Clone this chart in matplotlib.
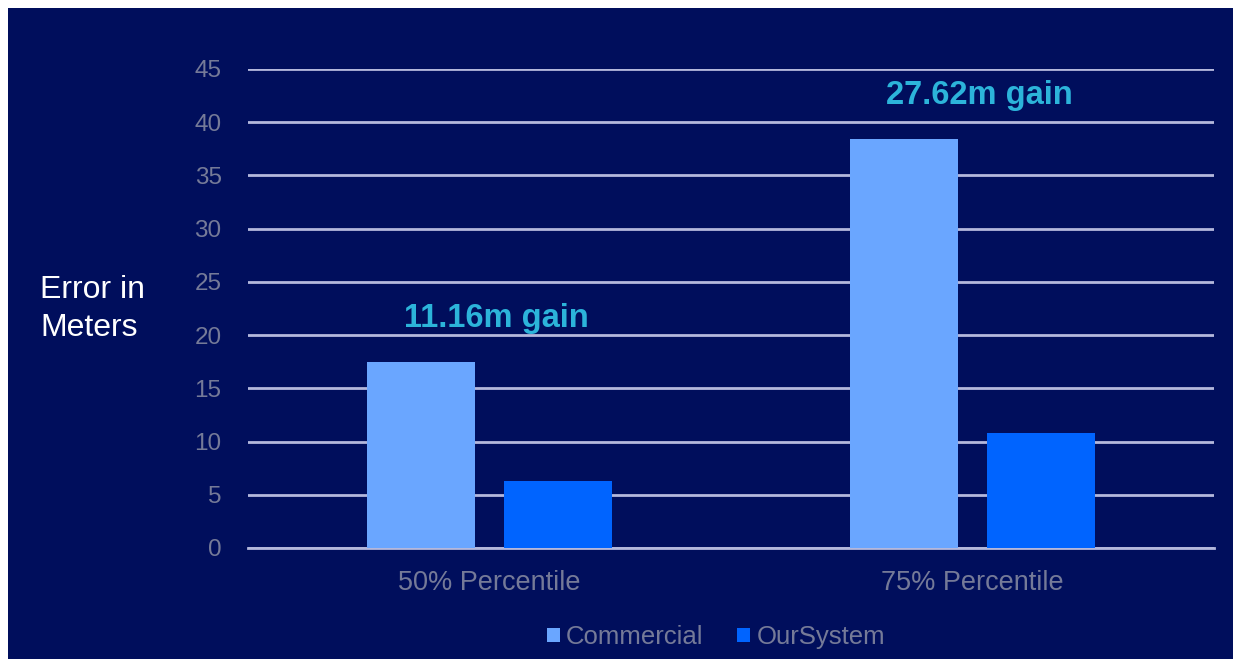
import numpy as np
import matplotlib.pyplot as plt
from matplotlib.patches import Rectangle

plt.rcParams['font.family'] = ['Liberation Sans', 'DejaVu Sans']

# data
categories = ['50% Percentile', '75% Percentile']
commercial = [17.5, 38.4]
our_system = [6.34, 10.78]
gains = ['11.16m gain', '27.62m gain']
yticks = [0, 5, 10, 15, 20, 25, 30, 35, 40, 45]

navy = '#000E5C'
grid_col = '#B4B8DC'
tick_col = '#757A98'

fig = plt.figure(figsize=(12.33, 6.59), dpi=100)
fig.patch.set_facecolor('white')
# dark panel with thin white margin at top / left
panel = Rectangle((8 / 1233, 0), 1 - 8 / 1233, 1 - 8 / 659,
                  transform=fig.transFigure, facecolor=navy,
                  edgecolor='none', zorder=-10)
fig.add_artist(panel)

ax = fig.add_axes([248 / 1233, 1 - 548 / 659, (1214 - 248) / 1233, (548 - 69) / 659])
ax.set_facecolor('none')

x = np.arange(len(categories))
w = 0.224
off = 0.142
ax.bar(x - off, commercial, w, color='#6AA6FF', label='Commercial', zorder=3)
ax.bar(x + off, our_system, w, color='#0064FF', label='OurSystem', zorder=3)

ax.set_xlim(-0.5, 1.5)
ax.set_ylim(0, 45)
ax.set_yticks(yticks)
ax.set_xticks(x)
ax.set_xticklabels(categories)
ax.tick_params(axis='both', length=0, colors=tick_col, labelsize=17.5)
ax.tick_params(axis='x', labelsize=19.5, pad=16)
ax.tick_params(axis='y', pad=19)
ax.yaxis.grid(True, color=grid_col, linewidth=2, zorder=1)
ax.set_axisbelow(True)
for s in ['top', 'right', 'left']:
    ax.spines[s].set_visible(False)
ax.spines['bottom'].set_color(grid_col)
ax.spines['bottom'].set_linewidth(2)

# gain annotations
for i, g in enumerate(gains):
    ax.text(x[i] + 0.015, commercial[i] + 4.1, g, ha='center', va='center',
            color='#2CB4DA', fontsize=23.5, fontweight='bold')

fig.text(40 / 1233, 1 - 309 / 659, 'Error in\nMeters', color='white', fontsize=23,
         ha='left', va='center', linespacing=1.38)

leg = fig.legend(loc='center', bbox_to_anchor=(716 / 1233, 1 - 637 / 659), ncol=2,
                 frameon=False, fontsize=18.5, handlelength=0.5, handleheight=0.5,
                 handletextpad=0.25, columnspacing=1.3)
for t in leg.get_texts():
    t.set_color(tick_col)

fig.savefig('out.png', dpi=100, facecolor=fig.get_facecolor())
